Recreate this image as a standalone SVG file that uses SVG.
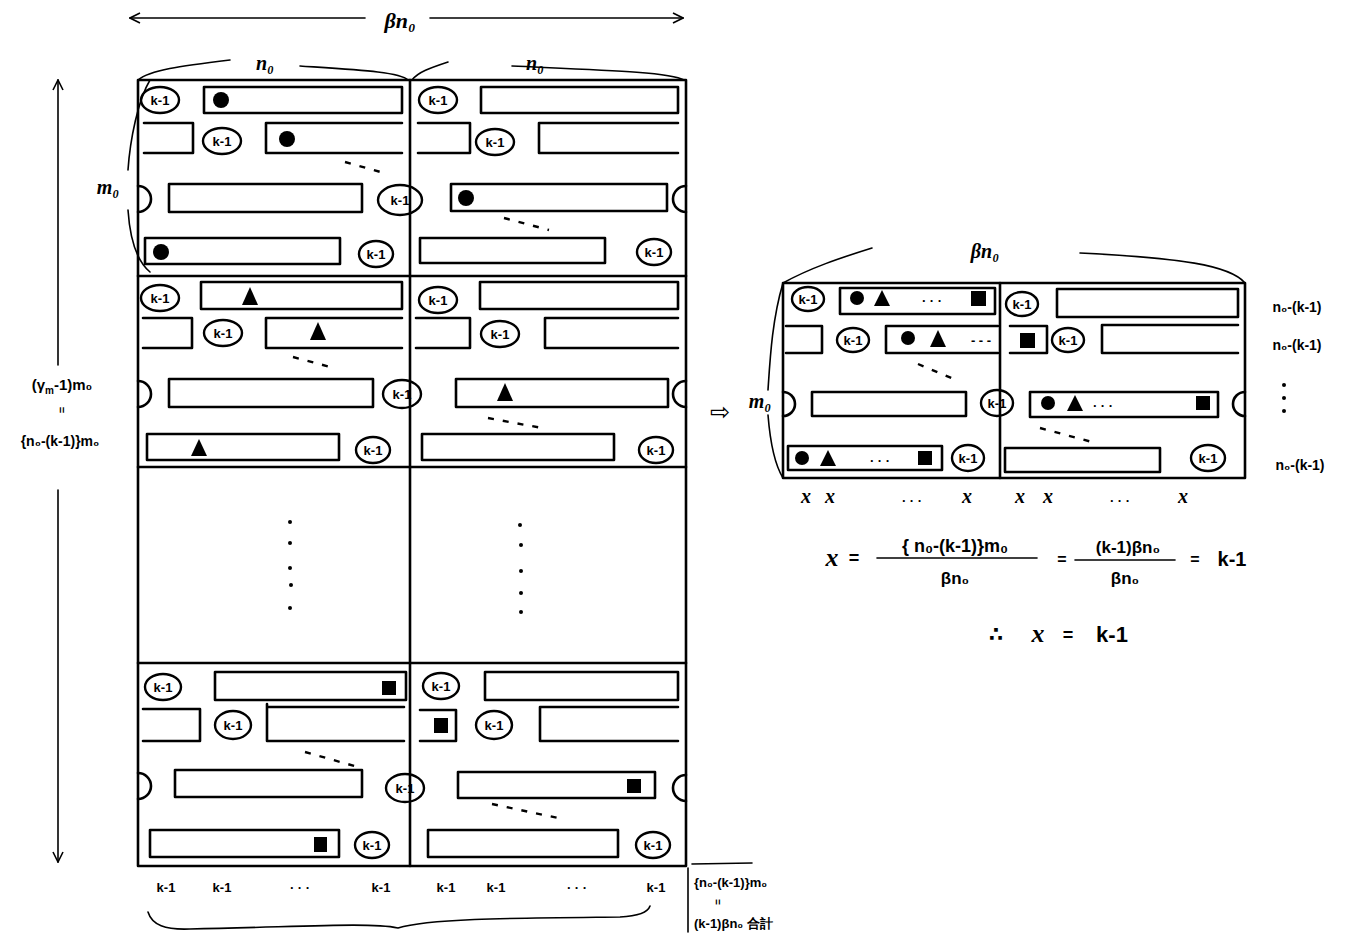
<svg xmlns="http://www.w3.org/2000/svg" width="1348" height="944" viewBox="0 0 1348 944">
<style>
.ln{fill:none;stroke:#000;stroke-width:2.6;stroke-linecap:round;stroke-linejoin:round}
.th{fill:none;stroke:#000;stroke-width:1.6;stroke-linecap:round}
.el{fill:none;stroke:#000;stroke-width:2.4}
.f{fill:#000;stroke:none}
.k{font-family:"Liberation Sans","DejaVu Sans",sans-serif;font-size:13px;font-weight:bold;text-anchor:middle;dominant-baseline:central}
.t{font-family:"Liberation Serif","DejaVu Serif",serif;font-style:italic;font-weight:bold;font-size:20px;text-anchor:middle}
.s{font-family:"Liberation Sans","DejaVu Sans",sans-serif;font-weight:bold;font-size:15px;text-anchor:middle}
.d{stroke:#000;stroke-width:2.4;stroke-dasharray:6 9;fill:none}
</style>
<defs>
<marker id="ah" viewBox="0 0 12 12" refX="11" refY="6" markerWidth="12" markerHeight="12" orient="auto" markerUnits="userSpaceOnUse"><path d="M1,1 L11,6 L1,11" fill="none" stroke="#000" stroke-width="1.6"/></marker>
</defs>
<rect width="1348" height="944" fill="#fff"/>

<g id="dimensions">
<line class="th" x1="365" y1="18" x2="130" y2="18" marker-end="url(#ah)"/>
<line class="th" x1="430" y1="18" x2="683" y2="18" marker-end="url(#ah)"/>
<text class="t" x="400" y="28" style="font-size:22px">βn₀</text>
<path class="th" d="M138,80 C150,70 180,66 230,60 M300,66 C360,70 400,72 408,80"/>
<text class="t" x="265" y="70">n₀</text>
<path class="th" d="M412,80 C418,72 430,68 448,62 M512,66 C600,70 670,72 684,80"/>
<text class="t" x="535" y="70">n₀</text>
<path class="th" d="M150,80 C138,100 130,140 128,170 M128,210 C130,240 138,262 150,272"/>
<text class="t" x="108" y="194">m₀</text>
<line class="th" x1="58" y1="365" x2="58" y2="80" marker-end="url(#ah)"/>
<line class="th" x1="58" y1="490" x2="58" y2="862" marker-end="url(#ah)"/>
<text class="s" x="62" y="390">(γ<tspan style="font-size:10px" dy="4">m</tspan><tspan dy="-4">-1)m₀</tspan></text>
<text class="s" x="62" y="414" style="font-size:11px" transform="rotate(90 62 410)">=</text>
<text class="s" x="60" y="446" style="font-size:14px">{n₀-(k-1)}m₀</text>
</g>

<g id="grid">
<rect class="ln" x="138" y="80" width="548" height="786"/>
<line class="ln" x1="410" y1="80" x2="410" y2="866"/>
<line class="ln" x1="138" y1="276" x2="686" y2="276"/>
<line class="ln" x1="138" y1="467" x2="686" y2="467"/>
<line class="ln" x1="138" y1="663" x2="686" y2="663"/>
</g>

<g id="block1">
<ellipse class="el" cx="160" cy="100" rx="19" ry="13"/><text class="k" x="160" y="100">k-1</text>
<rect class="ln" x="204" y="87" width="198" height="26"/><circle class="f" cx="221" cy="100" r="8"/>
<ellipse class="el" cx="438" cy="100" rx="19" ry="13"/><text class="k" x="438" y="100">k-1</text>
<rect class="ln" x="481" y="87" width="197" height="26"/>
<path class="ln" d="M144,123 H193 V153 H144"/>
<ellipse class="el" cx="222" cy="141" rx="19" ry="13"/><text class="k" x="222" y="141">k-1</text>
<path class="ln" d="M402,123 H266 V153 H402"/><circle class="f" cx="287" cy="139" r="8"/>
<path class="ln" d="M418,123 H470 V153 H418"/>
<ellipse class="el" cx="495" cy="142" rx="19" ry="13"/><text class="k" x="495" y="142">k-1</text>
<path class="ln" d="M678,123 H539 V153 H678"/>
<line class="d" x1="345" y1="162" x2="384" y2="173"/>
<path class="ln" d="M138,186 A13,13 0 0 1 138,212"/>
<rect class="ln" x="169" y="184" width="193" height="28"/>
<ellipse class="el" cx="400" cy="200" rx="22" ry="15"/><text class="k" x="400" y="200">k-1</text>
<rect class="ln" x="451" y="184" width="216" height="27"/><circle class="f" cx="466" cy="198" r="8"/>
<path class="ln" d="M686,186 A13,13 0 0 0 686,212"/>
<line class="d" x1="504" y1="218" x2="549" y2="230"/>
<rect class="ln" x="145" y="238" width="195" height="26"/><circle class="f" cx="161" cy="252" r="8"/>
<ellipse class="el" cx="376" cy="254" rx="17" ry="13"/><text class="k" x="376" y="254">k-1</text>
<rect class="ln" x="420" y="238" width="185" height="25"/>
<ellipse class="el" cx="654" cy="252" rx="17" ry="13"/><text class="k" x="654" y="252">k-1</text>
</g>

<g id="block2">
<ellipse class="el" cx="160" cy="298" rx="19" ry="13"/><text class="k" x="160" y="298">k-1</text>
<rect class="ln" x="201" y="282" width="201" height="27"/><polygon class="f" points="250,287 242,305 258,305"/>
<ellipse class="el" cx="438" cy="300" rx="19" ry="13"/><text class="k" x="438" y="300">k-1</text>
<rect class="ln" x="480" y="282" width="198" height="27"/>
<path class="ln" d="M143,318 H192 V348 H143"/>
<ellipse class="el" cx="223" cy="333" rx="19" ry="13"/><text class="k" x="223" y="333">k-1</text>
<path class="ln" d="M402,318 H266 V348 H402"/><polygon class="f" points="318,322 310,340 326,340"/>
<path class="ln" d="M416,318 H470 V348 H416"/>
<ellipse class="el" cx="500" cy="334" rx="19" ry="13"/><text class="k" x="500" y="334">k-1</text>
<path class="ln" d="M678,318 H545 V348 H678"/>
<line class="d" x1="293" y1="357" x2="334" y2="368"/>
<path class="ln" d="M138,381 A13,13 0 0 1 138,407"/>
<rect class="ln" x="169" y="379" width="204" height="28"/>
<ellipse class="el" cx="402" cy="394" rx="19" ry="14"/><text class="k" x="402" y="394">k-1</text>
<rect class="ln" x="456" y="379" width="212" height="28"/><polygon class="f" points="505,383 497,401 513,401"/>
<path class="ln" d="M686,381 A13,13 0 0 0 686,407"/>
<line class="d" x1="488" y1="418" x2="542" y2="428"/>
<rect class="ln" x="147" y="434" width="192" height="26"/><polygon class="f" points="199,439 191,456 207,456"/>
<ellipse class="el" cx="373" cy="450" rx="17" ry="13"/><text class="k" x="373" y="450">k-1</text>
<rect class="ln" x="422" y="434" width="192" height="26"/>
<ellipse class="el" cx="656" cy="450" rx="17" ry="13"/><text class="k" x="656" y="450">k-1</text>
</g>

<g id="block3">
<circle class="f" cx="290" cy="522" r="2"/><circle class="f" cx="290" cy="543" r="2"/><circle class="f" cx="290" cy="568" r="2"/><circle class="f" cx="291" cy="585" r="2"/><circle class="f" cx="290" cy="608" r="2"/>
<circle class="f" cx="520" cy="525" r="2"/><circle class="f" cx="521" cy="545" r="2"/><circle class="f" cx="521" cy="571" r="2"/><circle class="f" cx="521" cy="593" r="2"/><circle class="f" cx="521" cy="612" r="2"/>
</g>

<g id="block4">
<ellipse class="el" cx="163" cy="687" rx="18" ry="13"/><text class="k" x="163" y="687">k-1</text>
<rect class="ln" x="215" y="672" width="191" height="28"/><rect class="f" x="382" y="681" width="14" height="14"/>
<ellipse class="el" cx="441" cy="686" rx="18" ry="13"/><text class="k" x="441" y="686">k-1</text>
<rect class="ln" x="485" y="672" width="193" height="28"/>
<path class="ln" d="M143,709 H200 V741 H143"/>
<ellipse class="el" cx="233" cy="725" rx="18" ry="14"/><text class="k" x="233" y="725">k-1</text>
<path class="ln" d="M404,707 H267 M267,704 V741 H404"/>
<path class="ln" d="M420,710 H456 V741 H420"/><rect class="f" x="434" y="718" width="14" height="15"/>
<ellipse class="el" cx="494" cy="725" rx="18" ry="14"/><text class="k" x="494" y="725">k-1</text>
<path class="ln" d="M678,707 H540 V741 H678"/>
<line class="d" x1="305" y1="752" x2="358" y2="767"/>
<path class="ln" d="M138,773 A13,13 0 0 1 138,799"/>
<rect class="ln" x="175" y="770" width="187" height="27"/>
<ellipse class="el" cx="405" cy="788" rx="19" ry="14"/><text class="k" x="405" y="788">k-1</text>
<rect class="ln" x="458" y="772" width="197" height="26"/><rect class="f" x="627" y="779" width="14" height="14"/>
<path class="ln" d="M686,775 A13,13 0 0 0 686,801"/>
<line class="d" x1="492" y1="804" x2="558" y2="818"/>
<rect class="ln" x="150" y="830" width="189" height="27"/><rect class="f" x="314" y="837" width="13" height="15"/>
<ellipse class="el" cx="372" cy="845" rx="17" ry="13"/><text class="k" x="372" y="845">k-1</text>
<rect class="ln" x="428" y="830" width="190" height="27"/>
<ellipse class="el" cx="653" cy="845" rx="17" ry="13"/><text class="k" x="653" y="845">k-1</text>
</g>

<g id="bottom">
<text class="k" x="166" y="887">k-1</text>
<text class="k" x="222" y="887">k-1</text>
<text class="k" x="300" y="887">· · ·</text>
<text class="k" x="381" y="887">k-1</text>
<text class="k" x="446" y="887">k-1</text>
<text class="k" x="496" y="887">k-1</text>
<text class="k" x="577" y="887">· · ·</text>
<text class="k" x="656" y="887">k-1</text>
<path class="th" d="M148,912 C152,925 165,930 190,929 C300,927 370,922 398,928 C430,918 520,918 620,917 C640,916 648,912 650,906"/>
<line class="th" x1="688" y1="868" x2="688" y2="932"/>
<line class="th" x1="692" y1="864" x2="752" y2="863"/>
<text class="s" x="694" y="887" style="font-size:13px;text-anchor:start">{n₀-(k-1)}m₀</text>
<text class="s" x="718" y="906" style="font-size:10px" transform="rotate(90 718 902)">=</text>
<text class="s" x="694" y="928" style="font-size:13px;text-anchor:start">(k-1)βn₀ 合計</text>
</g>

<g id="arrow">
<text x="720" y="420" font-family="DejaVu Sans,sans-serif" font-size="24" text-anchor="middle">⇨</text>
</g>

<g id="right">
<path class="th" d="M783,283 C810,268 840,258 872,248 M1080,253 C1180,258 1230,265 1245,283"/>
<text class="t" x="985" y="258">βn₀</text>
<path class="th" d="M783,283 C772,320 770,360 768,390 M768,415 C770,440 775,465 783,478"/>
<text class="t" x="760" y="408">m₀</text>
<rect class="ln" x="783" y="283" width="462" height="195"/>
<line class="ln" x1="1000" y1="283" x2="1000" y2="478"/>
<ellipse class="el" cx="808" cy="299" rx="16" ry="12"/><text class="k" x="808" y="299">k-1</text>
<rect class="ln" x="840" y="288" width="155" height="26"/>
<circle class="f" cx="857" cy="298" r="7"/><polygon class="f" points="882,290 874,306 890,306"/>
<text class="k" x="932" y="300">· · ·</text><rect class="f" x="971" y="291" width="15" height="15"/>
<ellipse class="el" cx="1022" cy="304" rx="16" ry="12"/><text class="k" x="1022" y="304">k-1</text>
<rect class="ln" x="1057" y="289" width="181" height="28"/>
<path class="ln" d="M786,326 H822 V353 H786"/>
<ellipse class="el" cx="853" cy="340" rx="16" ry="12"/><text class="k" x="853" y="340">k-1</text>
<path class="ln" d="M998,326 H886 V353 H998"/>
<circle class="f" cx="908" cy="338" r="7"/><polygon class="f" points="938,330 930,347 946,347"/>
<text class="k" x="981" y="340">- - -</text>
<path class="ln" d="M1010,326 H1047 V353 H1010"/><rect class="f" x="1020" y="333" width="15" height="15"/>
<ellipse class="el" cx="1068" cy="340" rx="16" ry="12"/><text class="k" x="1068" y="340">k-1</text>
<path class="ln" d="M1238,325 H1102 V353 H1238"/>
<line class="d" x1="918" y1="364" x2="956" y2="380"/>
<path class="ln" d="M783,392 A12,12 0 0 1 783,416"/>
<rect class="ln" x="812" y="392" width="154" height="24"/>
<ellipse class="el" cx="997" cy="403" rx="16" ry="13"/><text class="k" x="997" y="403">k-1</text>
<rect class="ln" x="1030" y="392" width="188" height="25"/>
<circle class="f" cx="1048" cy="403" r="7"/><polygon class="f" points="1075,395 1067,411 1083,411"/>
<text class="k" x="1103" y="405">· · ·</text><rect class="f" x="1196" y="396" width="14" height="14"/>
<path class="ln" d="M1245,392 A12,12 0 0 0 1245,416"/>
<line class="d" x1="1040" y1="428" x2="1092" y2="442"/>
<rect class="ln" x="788" y="446" width="154" height="24"/>
<circle class="f" cx="802" cy="458" r="7"/><polygon class="f" points="828,450 820,466 836,466"/>
<text class="k" x="880" y="460">· · ·</text><rect class="f" x="918" y="451" width="14" height="14"/>
<ellipse class="el" cx="968" cy="458" rx="16" ry="13"/><text class="k" x="968" y="458">k-1</text>
<rect class="ln" x="1005" y="448" width="155" height="24"/>
<ellipse class="el" cx="1208" cy="458" rx="17" ry="13"/><text class="k" x="1208" y="458">k-1</text>
<text class="s" x="1297" y="312" style="font-size:14px">n₀-(k-1)</text>
<text class="s" x="1297" y="350" style="font-size:14px">n₀-(k-1)</text>
<circle class="f" cx="1284" cy="385" r="2"/><circle class="f" cx="1284" cy="398" r="2"/><circle class="f" cx="1284" cy="411" r="2"/>
<text class="s" x="1300" y="470" style="font-size:14px">n₀-(k-1)</text>
<text class="t" x="806" y="503" style="font-size:20px">x</text>
<text class="t" x="830" y="503" style="font-size:20px">x</text>
<text class="k" x="912" y="500">· · ·</text>
<text class="t" x="967" y="503" style="font-size:20px">x</text>
<text class="t" x="1020" y="503" style="font-size:20px">x</text>
<text class="t" x="1048" y="503" style="font-size:20px">x</text>
<text class="k" x="1120" y="500">· · ·</text>
<text class="t" x="1183" y="503" style="font-size:20px">x</text>
</g>

<g id="formula">
<text class="t" x="832" y="566" style="font-size:26px">x</text>
<text class="s" x="854" y="564" style="font-size:18px">=</text>
<text class="s" x="955" y="552" style="font-size:18px">{ n₀-(k-1)}m₀</text>
<line class="th" x1="877" y1="558" x2="1037" y2="558"/>
<text class="s" x="955" y="584" style="font-size:17px">βn₀</text>
<text class="s" x="1062" y="565" style="font-size:16px">=</text>
<text class="s" x="1128" y="553" style="font-size:17px">(k-1)βn₀</text>
<line class="th" x1="1075" y1="560" x2="1175" y2="560"/>
<text class="s" x="1125" y="584" style="font-size:17px">βn₀</text>
<text class="s" x="1195" y="565" style="font-size:16px">=</text>
<text class="s" x="1232" y="566" style="font-size:20px">k-1</text>
<text class="s" x="996" y="641" style="font-size:20px">∴</text>
<text class="t" x="1038" y="642" style="font-size:26px">x</text>
<text class="s" x="1068" y="641" style="font-size:18px">=</text>
<text class="s" x="1112" y="642" style="font-size:22px">k-1</text>
</g>
</svg>
